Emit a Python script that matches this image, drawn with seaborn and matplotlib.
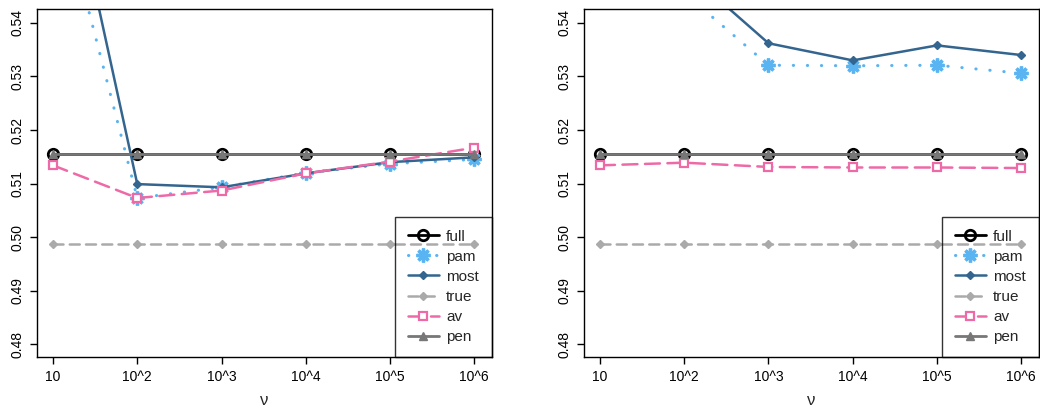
import pandas as pd
import matplotlib.pyplot as plt
import seaborn as sns

# x positions and tick labels
nu_pos = [1, 2, 3, 4, 5, 6]
nu_labels = ["10", "10^2", "10^3", "10^4", "10^5", "10^6"]

# left panel values
left_full = [0.5155, 0.5155, 0.5155, 0.5155, 0.5155, 0.5155]
left_pam = [0.568, 0.5073, 0.5093, 0.5120, 0.5137, 0.5145]
left_most = [0.582, 0.5099, 0.5093, 0.5119, 0.5140, 0.5149]
left_true = [0.4988, 0.4988, 0.4988, 0.4988, 0.4988, 0.4988]
left_av = [0.5134, 0.5073, 0.5087, 0.5119, 0.5141, 0.5167]
left_pen = [0.5155, 0.5155, 0.5155, 0.5155, 0.5155, 0.5155]

# right panel values
right_full = [0.5155, 0.5155, 0.5155, 0.5155, 0.5155, 0.5155]
right_pam = [0.560, 0.5456, 0.5321, 0.5320, 0.5321, 0.5306]
right_most = [0.565, 0.5500, 0.5362, 0.5330, 0.5358, 0.5340]
right_true = [0.4988, 0.4988, 0.4988, 0.4988, 0.4988, 0.4988]
right_av = [0.5134, 0.5139, 0.5131, 0.5130, 0.5130, 0.5129]
right_pen = [0.5155, 0.5155, 0.5155, 0.5155, 0.5155, 0.5155]

series_names = ["full", "pam", "most", "true", "av", "pen"]
panels = [
    [left_full, left_pam, left_most, left_true, left_av, left_pen],
    [right_full, right_pam, right_most, right_true, right_av, right_pen],
]

# style per series
styles = {
    "full": dict(color="black", marker="o", ls="-", ms=7.5, mew=2.0, mfc="none", mec="black", lw=2.0),
    "pam": dict(color="#5AB4F2", marker=(8, 2, 0), ls=(0, (0.1, 4.5)), ms=10, mew=2.4, mfc="#5AB4F2", mec="#5AB4F2", lw=2.2),
    "most": dict(color="#33658F", marker="D", ls="-", ms=4.5, mew=1, mfc="#33658F", mec="#33658F", lw=1.8),
    "true": dict(color="#AAAAAA", marker="D", ls=(0, (4, 2.5)), ms=4.5, mew=1, mfc="#AAAAAA", mec="#AAAAAA", lw=1.8),
    "av": dict(color="#EE6AA7", marker="s", ls=(0, (6, 3)), ms=6, mew=1.6, mfc="white", mec="#EE6AA7", lw=1.8),
    "pen": dict(color="#777777", marker="^", ls="-", ms=5.5, mew=1, mfc="#777777", mec="#777777", lw=2.0),
}

sns.set_theme(style="ticks")
plt.rcParams["font.family"] = ["Liberation Sans", "DejaVu Sans"]
plt.rcParams["axes.edgecolor"] = "black"
plt.rcParams["axes.linewidth"] = 1.0
plt.rcParams["xtick.color"] = "black"
plt.rcParams["ytick.color"] = "black"

fig, axes = plt.subplots(1, 2, figsize=(10.4, 4.09), dpi=100)
axes[0].set_position([0.0356, 0.127, 0.473 - 0.0356, 0.978 - 0.127])
axes[1].set_position([0.5615, 0.127, 0.999 - 0.5615, 0.978 - 0.127])

for ax, vals in zip(axes, panels):
    for name, y in zip(series_names, vals):
        st = styles[name]
        df = pd.DataFrame({"nu": nu_pos, "value": y})
        sns.lineplot(data=df, x="nu", y="value", ax=ax, color=st["color"],
                     linestyle=st["ls"], linewidth=st["lw"], marker=st["marker"],
                     markersize=st["ms"], markeredgewidth=st["mew"],
                     markerfacecolor=st["mfc"], markeredgecolor=st["mec"],
                     dash_capstyle="round", label=name, clip_on=True)
    ax.set_xlim(0.81, 6.21)
    ax.set_ylim(0.4776, 0.5426)
    ax.set_xticks(nu_pos)
    ax.set_xticklabels(nu_labels, fontsize=10)
    ax.set_yticks([0.48, 0.49, 0.50, 0.51, 0.52, 0.53, 0.54])
    ax.set_yticklabels(["0.48", "0.49", "0.50", "0.51", "0.52", "0.53", "0.54"],
                       fontsize=10, rotation=90, va="center")
    ax.tick_params(axis="both", direction="out", length=5, width=1, pad=4)
    ax.set_xlabel("ν", fontsize=12, labelpad=7)
    ax.set_ylabel("")
    for sp in ax.spines.values():
        sp.set_visible(True)
        sp.set_color("black")
    leg = ax.legend(loc="lower right", borderaxespad=0, fancybox=False,
                    edgecolor="black", fontsize=11, handlelength=2.0,
                    handletextpad=0.5, labelspacing=0.4, borderpad=0.85)
    leg.get_frame().set_facecolor("none")
    leg.get_frame().set_linewidth(1.0)

plt.savefig("out.png", dpi=100)
